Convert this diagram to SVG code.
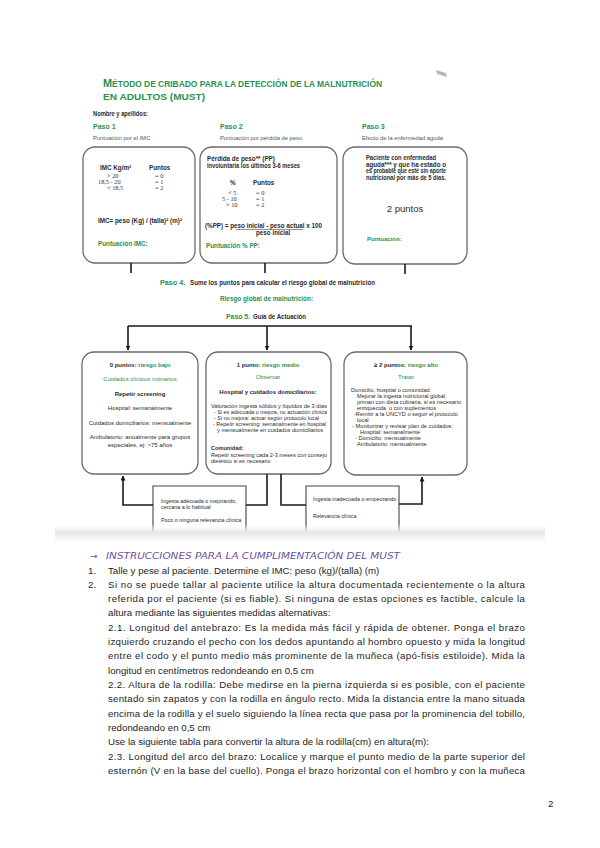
<svg xmlns="http://www.w3.org/2000/svg" width="600" height="848" viewBox="0 0 600 848">
<defs>
<style>
.t{font-family:"Liberation Sans Narrow","Liberation Sans",Arial,sans-serif;fill:#2b2b2b}
.s{font-family:"Liberation Serif","Times New Roman",serif;fill:#333}
.g{fill:#2a9150}
.b{font-weight:bold}
.box{fill:#fff;stroke:#6a6a6a;stroke-width:1.3}
.sb{fill:#fff;stroke:#444;stroke-width:1.1}
.ln{fill:none;stroke:#1a1a1a;stroke-width:1.6}
.p{font-family:"Liberation Sans",Arial,sans-serif;font-size:9.7px;fill:#1e1e1e}
</style>
<marker id="ah" viewBox="0 0 10 10" refX="9" refY="5" markerWidth="5" markerHeight="5" orient="auto" markerUnits="userSpaceOnUse">
<path d="M0,0 L10,5 L0,10 z" fill="#1a1a1a"/>
</marker>
<linearGradient id="band" x1="0" y1="0" x2="0" y2="1">
<stop offset="0" stop-color="#ffffff" stop-opacity="0"/>
<stop offset="0.45" stop-color="#e6e6e6"/>
<stop offset="1" stop-color="#ffffff"/>
</linearGradient>
</defs>
<rect width="600" height="848" fill="#fff"/>

<g id="title" font-family="Liberation Sans, Arial, sans-serif" font-weight="bold" fill="#2a9150">
<text x="103" y="87" textLength="279" lengthAdjust="spacingAndGlyphs"><tspan font-size="11">M</tspan><tspan font-size="8.5">ÉTODO DE CRIBADO PARA LA DETECCIÓN DE LA MALNUTRICIÓN</tspan></text>
<text x="103" y="100" font-size="8.5" textLength="102" lengthAdjust="spacingAndGlyphs">EN ADULTOS (MUST)</text>
</g>
<path d="M436,70 L446,73 L447,77 L437,74 z" fill="#9a9a9a" opacity="0.7"/>

<g id="header" class="t" font-size="6.5">
<text x="93" y="116" class="b" textLength="55" lengthAdjust="spacingAndGlyphs">Nombre y apellidos:</text>
<text x="93" y="129" class="g b" font-size="7">Paso 1</text>
<text x="93" y="140" font-size="5.8" fill="#555">Puntuación por el IMC</text>
<text x="220" y="129" class="g b" font-size="7">Paso 2</text>
<text x="220" y="140" font-size="5.8" fill="#555">Puntuación por pérdida de peso</text>
<text x="362" y="129" class="g b" font-size="7">Paso 3</text>
<text x="362" y="140" font-size="5.8" fill="#555">Efecto de la enfermedad aguda</text>
</g>

<g id="paso1">
<rect class="box" x="83" y="147" width="112" height="116" rx="12"/>
<g class="t" font-size="6.3">
<text x="100" y="170" class="b">IMC Kg/m²</text>
<text x="149" y="170" class="b">Puntos</text>
<text x="98" y="223" class="b" textLength="84" lengthAdjust="spacingAndGlyphs">IMC= peso (Kg) / (talla)² (m)²</text>
<text x="98" y="246" class="g b">Puntuación IMC:</text>
</g>
<g class="s" font-size="6.3">
<text x="107" y="178">&gt; 20</text>
<text x="98" y="184">18,5 - 20</text>
<text x="107" y="190">&lt; 18,5</text>
<text x="155" y="178">= 0</text>
<text x="155" y="184">= 1</text>
<text x="155" y="190">= 2</text>
</g>
</g>

<g id="paso2">
<rect class="box" x="200" y="147" width="137" height="116" rx="12"/>
<g class="t" font-size="6.3">
<text x="207" y="161" class="b">Pérdida de peso** (PP)</text>
<text x="207" y="168" class="b" textLength="93" lengthAdjust="spacingAndGlyphs">involuntaria los últimos 3-6 meses</text>
<text x="230" y="185" class="b">%</text>
<text x="253" y="185" class="b">Puntos</text>
<text x="205" y="228" class="b" textLength="117" lengthAdjust="spacingAndGlyphs">(%PP) = peso inicial - peso actual  x 100</text>
<text x="256" y="235" class="b">peso inicial</text>
<text x="206" y="248" class="g b">Puntuación % PP:</text>
</g>
<line x1="236" y1="229.5" x2="303" y2="229.5" stroke="#444" stroke-width="0.6"/>
<g class="s" font-size="6.3">
<text x="228" y="195">&lt; 5</text>
<text x="222" y="201">5 - 10</text>
<text x="226" y="207">&gt; 10</text>
<text x="256" y="195">= 0</text>
<text x="256" y="201">= 1</text>
<text x="256" y="207">= 2</text>
</g>
</g>

<g id="paso3">
<rect class="box" x="343" y="147" width="124" height="117" rx="12"/>
<g class="t b" font-size="6.3">
<text x="366" y="160" textLength="70" lengthAdjust="spacingAndGlyphs">Paciente con enfermedad</text>
<text x="366" y="166.5" textLength="80" lengthAdjust="spacingAndGlyphs">aguda*** y que ha estado o</text>
<text x="366" y="173" textLength="80" lengthAdjust="spacingAndGlyphs">es probable que esté sin aporte</text>
<text x="366" y="179.5" textLength="80" lengthAdjust="spacingAndGlyphs">nutricional por más de 5 días.</text>
</g>
<text x="405" y="212" class="t" font-size="9.5" text-anchor="middle">2 puntos</text>
<text x="367" y="241" class="t g b" font-size="6">Puntuación:</text>
</g>

<g id="pasos45" class="t b" font-size="7.2">
<text x="160" y="285" class="g">Paso 4.</text>
<text x="190" y="285" textLength="185" lengthAdjust="spacingAndGlyphs">Sume los puntos para calcular el riesgo global de malnutrición</text>
<text x="220" y="301" class="g" textLength="93" lengthAdjust="spacingAndGlyphs">Riesgo global de malnutrición:</text>
<text x="226" y="319" class="g" textLength="24" lengthAdjust="spacingAndGlyphs">Paso 5.</text>
<text x="253" y="319" textLength="53" lengthAdjust="spacingAndGlyphs">Guía de Actuación</text>
</g>

<g id="riesgo-bajo">
<rect class="box" x="82" y="352" width="116" height="122" rx="12"/>
<g class="t" font-size="6" text-anchor="middle">
<text x="140" y="367" class="b">0 puntos: <tspan class="g">riesgo bajo</tspan></text>
<text x="140" y="381" class="g">Cuidados clínicos rutinarios</text>
<text x="140" y="396" class="b">Repetir screening</text>
<text x="140" y="410">Hospital:  semanalmente</text>
<text x="140" y="425">Cuidados domiciliarios:  mensualmente</text>
<text x="140" y="439">Ambulatorio: anualmente para grupos</text>
<text x="140" y="447">especiales, ej: &gt;75 años</text>
</g>
</g>

<g id="riesgo-medio">
<rect class="box" x="206" y="352" width="125" height="122" rx="12"/>
<g class="t" font-size="5.6">
<text x="268" y="367" class="b" text-anchor="middle" font-size="6">1 punto: <tspan class="g">riesgo medio</tspan></text>
<text x="268" y="379" class="g" text-anchor="middle" font-size="6">Observar</text>
<text x="268" y="394" class="b" text-anchor="middle" font-size="6">Hospital y cuidados domiciliarios:</text>
<text x="211" y="408" textLength="116" lengthAdjust="spacingAndGlyphs">Valoración  ingesta  sólidos y líquidos  de 3 días</text>
<text x="214" y="414" textLength="113" lengthAdjust="spacingAndGlyphs">- Si es adecuada o mejora,  no actuación clínica</text>
<text x="214" y="420" textLength="105" lengthAdjust="spacingAndGlyphs">- Si no mejora: actuar  según protocolo local</text>
<text x="213" y="426" textLength="113" lengthAdjust="spacingAndGlyphs">- Repetir screening:  semanalmente en hospital</text>
<text x="217" y="432" textLength="106" lengthAdjust="spacingAndGlyphs">y mensualmente en cuidados domiciliarios</text>
<text x="211" y="450" class="b">Comunidad:</text>
<text x="211" y="456.5" textLength="116" lengthAdjust="spacingAndGlyphs">Repetir screening  cada 2-3  meses con consejo</text>
<text x="211" y="462.5">dietético si es necesario</text>
</g>
</g>

<g id="riesgo-alto">
<rect class="box" x="344" y="352" width="123" height="123" rx="12"/>
<g class="t" font-size="5.6">
<text x="406" y="367" class="b" text-anchor="middle" font-size="6">≥ 2 puntos: <tspan class="g">riesgo alto</tspan></text>
<text x="406" y="379" class="g" text-anchor="middle" font-size="6">Tratar</text>
<text x="351" y="392">Domicilio, hospital o comunidad:</text>
<text x="357" y="398">Mejorar la ingesta nutricional global,</text>
<text x="357" y="404" textLength="104" lengthAdjust="spacingAndGlyphs">priman con dieta culinaria,  si es necesario</text>
<text x="357" y="410">enriquecida, o con suplementos</text>
<text x="354" y="416" textLength="104" lengthAdjust="spacingAndGlyphs">-Remitir a la UNCYD o seguir el protocolo</text>
<text x="357" y="422">local</text>
<text x="352" y="428" textLength="101" lengthAdjust="spacingAndGlyphs">- Monitorizar y revisar  plan de cuidados:</text>
<text x="360" y="434">Hospital: semanalmente</text>
<text x="355" y="440">- Domicilio: mensualmente</text>
<text x="357" y="446">Ambulatorio: mensualmente</text>
</g>
</g>

<g id="evolucion-favorable">
<path class="sb" d="M153,536 V486 H246 V536"/>
<g class="t" font-size="5.4">
<text x="161" y="503">Ingesta adecuada o mejorando,</text>
<text x="161" y="509">cercana a lo habitual</text>
<text x="161" y="522">Poco o ninguna relevancia clínica</text>
</g>
</g>

<g id="evolucion-desfavorable">
<path class="sb" d="M306,536 V486 H399 V536"/>
<g class="t" font-size="5.4">
<text x="313" y="501">Ingesta inadecuada o empeorando</text>
<text x="313" y="518">Relevancia clínica</text>
</g>
</g>

<g id="connectors">
<path class="ln" d="M131,263 V273"/>
<path class="ln" d="M265,263 V273"/>
<path class="ln" d="M405,264 V274"/>
<path class="ln" d="M128,326 H412"/>
<path class="ln" d="M128,326 V350" marker-end="url(#ah)"/>
<path class="ln" d="M267,326 V350" marker-end="url(#ah)"/>
<path class="ln" d="M411,326 V350" marker-end="url(#ah)"/>
<path class="ln" d="M153,505 H123 V476" marker-end="url(#ah)"/>
<path class="ln" d="M246,505 H267 V474"/>
<path class="ln" d="M281,474 V505 H306"/>
<path class="ln" d="M399,504 H422 V477" marker-end="url(#ah)"/>
</g>

<rect x="55" y="524" width="490" height="18" fill="url(#band)"/>

<g id="instrucciones">
<text x="90" y="559" font-family="DejaVu Sans, sans-serif" font-size="9" fill="#6b4fa3">→</text>
<text x="106" y="559" font-family="DejaVu Sans, sans-serif" font-size="8.5" font-style="italic" fill="#6b4fa3" textLength="294" lengthAdjust="spacingAndGlyphs">INSTRUCCIONES PARA LA CUMPLIMENTACIÓN DEL MUST</text>
<g class="p">
<text x="88" y="574">1.</text>
<text x="108" y="574">Talle y pese al paciente. Determine el IMC: peso (kg)/(talla) (m)</text>
<text x="88" y="588">2.</text>
<text x="108" y="588" textLength="417" lengthAdjust="spacing">Si no se puede tallar al paciente utilice la altura documentada recientemente o la altura</text>
<text x="108" y="602" textLength="417" lengthAdjust="spacing">referida por el paciente (si es fiable). Si ninguna de estas opciones es factible, calcule la</text>
<text x="108" y="616">altura mediante las siguientes medidas alternativas:</text>
<text x="108" y="631" textLength="417" lengthAdjust="spacing">2.1. Longitud del antebrazo: Es la medida más fácil y rápida de obtener. Ponga el brazo</text>
<text x="108" y="645" textLength="417" lengthAdjust="spacing">izquierdo cruzando el pecho con los dedos apuntando al hombro opuesto y mida la longitud</text>
<text x="108" y="659" textLength="417" lengthAdjust="spacing">entre el codo y el punto medio más prominente de la muñeca (apó-fisis estiloide). Mida la</text>
<text x="108" y="674">longitud en centímetros redondeando en 0,5 cm</text>
<text x="108" y="688" textLength="417" lengthAdjust="spacing">2.2. Altura de la rodilla: Debe medirse en la pierna izquierda si es posible, con el paciente</text>
<text x="108" y="702" textLength="417" lengthAdjust="spacing">sentado sin zapatos y con la rodilla en ángulo recto. Mida la distancia entre la mano situada</text>
<text x="108" y="717" textLength="417" lengthAdjust="spacing">encima de la rodilla y el suelo siguiendo la línea recta que pasa por la prominencia del tobillo,</text>
<text x="108" y="731">redondeando en 0,5 cm</text>
<text x="108" y="745">Use la siguiente tabla para convertir la altura de la rodilla(cm) en altura(m):</text>
<text x="108" y="760" textLength="417" lengthAdjust="spacing">2.3. Longitud del arco del brazo: Localice y marque el punto medio de la parte superior del</text>
<text x="108" y="774" textLength="417" lengthAdjust="spacing">esternón (V en la base del cuello). Ponga el brazo horizontal con el hombro y con la muñeca</text>
</g>
<text x="548" y="807" class="p" font-size="11">2</text>
</g>
</svg>
